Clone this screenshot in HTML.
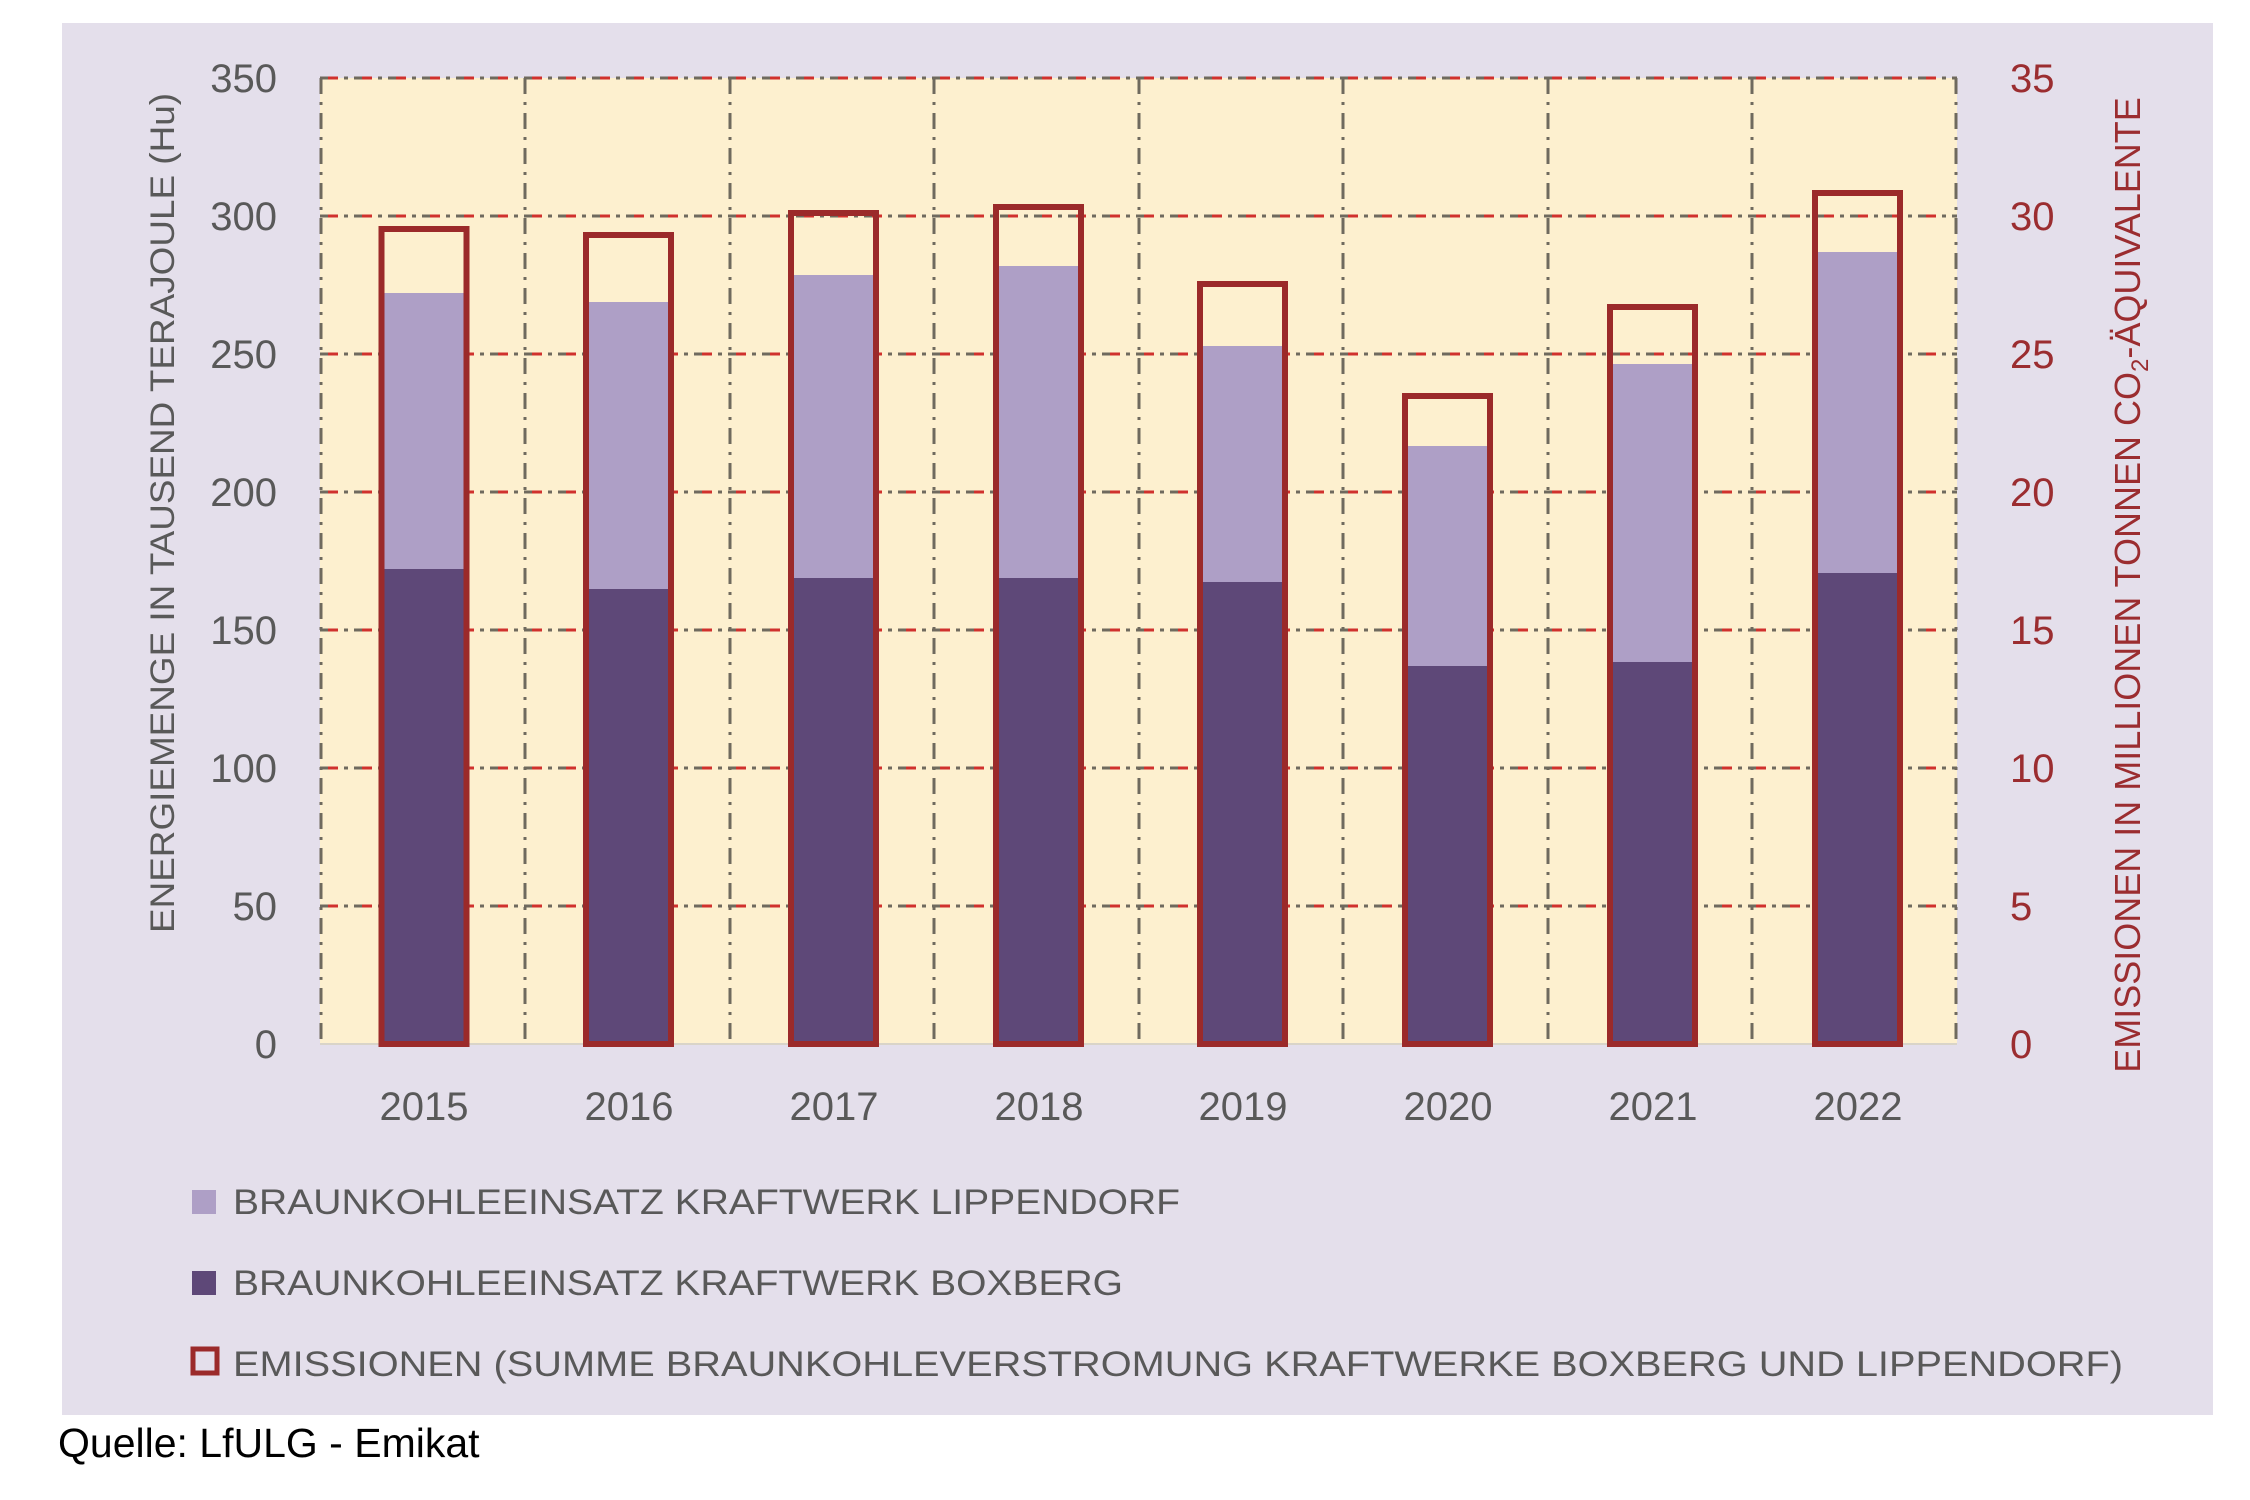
<!DOCTYPE html>
<html><head><meta charset="utf-8"><style>
html,body{margin:0;padding:0;background:#fff;}
svg{display:block;}
text{font-family:"Liberation Sans",sans-serif;}
</style></head><body>
<svg width="2250" height="1500" viewBox="0 0 2250 1500" xmlns="http://www.w3.org/2000/svg">
<rect x="62" y="23" width="2151" height="1392" fill="#e4dfeb"/>
<rect x="320" y="78" width="1637" height="966" fill="#fdf0cf"/>
<g stroke-width="3">
<g stroke="#6f6a5e" stroke-dasharray="18,6,4,6">
<line x1="320" y1="78" x2="1957" y2="78"/><line x1="320" y1="216" x2="1957" y2="216"/><line x1="320" y1="354" x2="1957" y2="354"/><line x1="320" y1="492" x2="1957" y2="492"/><line x1="320" y1="630" x2="1957" y2="630"/><line x1="320" y1="768" x2="1957" y2="768"/><line x1="320" y1="906" x2="1957" y2="906"/>
</g>
<g stroke="#d0312d" stroke-dasharray="10,24" stroke-dashoffset="-8">
<line x1="320" y1="78" x2="1957" y2="78"/><line x1="320" y1="216" x2="1957" y2="216"/><line x1="320" y1="354" x2="1957" y2="354"/><line x1="320" y1="492" x2="1957" y2="492"/><line x1="320" y1="630" x2="1957" y2="630"/><line x1="320" y1="768" x2="1957" y2="768"/><line x1="320" y1="906" x2="1957" y2="906"/>
</g>
</g>
<g stroke="#6f6a5e" stroke-width="3" stroke-dasharray="16,8,3,8">
<line x1="321" y1="78" x2="321" y2="1044"/><line x1="525" y1="78" x2="525" y2="1044"/><line x1="730" y1="78" x2="730" y2="1044"/><line x1="934" y1="78" x2="934" y2="1044"/><line x1="1139" y1="78" x2="1139" y2="1044"/><line x1="1343" y1="78" x2="1343" y2="1044"/><line x1="1548" y1="78" x2="1548" y2="1044"/><line x1="1752" y1="78" x2="1752" y2="1044"/><line x1="1956" y1="78" x2="1956" y2="1044"/>
</g>
<line x1="320" y1="1044" x2="1957" y2="1044" stroke="#d9d4c8" stroke-width="2"/>
<g>
<rect x="381" y="569" width="84" height="475" fill="#5e4878"/><rect x="381" y="293" width="84" height="276" fill="#ae9fc6"/>
<rect x="381.5" y="229" width="85" height="815" fill="none" stroke="#9b2a2a" stroke-width="6"/>
<rect x="586" y="589" width="84" height="455" fill="#5e4878"/><rect x="586" y="302" width="84" height="287" fill="#ae9fc6"/>
<rect x="586" y="235" width="85" height="809" fill="none" stroke="#9b2a2a" stroke-width="6"/>
<rect x="791" y="578" width="84" height="466" fill="#5e4878"/><rect x="791" y="275" width="84" height="303" fill="#ae9fc6"/>
<rect x="791" y="213" width="85" height="831" fill="none" stroke="#9b2a2a" stroke-width="6"/>
<rect x="996" y="578" width="84" height="466" fill="#5e4878"/><rect x="996" y="266" width="84" height="312" fill="#ae9fc6"/>
<rect x="996" y="207" width="85" height="837" fill="none" stroke="#9b2a2a" stroke-width="6"/>
<rect x="1200" y="582" width="84" height="462" fill="#5e4878"/><rect x="1200" y="346" width="84" height="236" fill="#ae9fc6"/>
<rect x="1200" y="284" width="85" height="760" fill="none" stroke="#9b2a2a" stroke-width="6"/>
<rect x="1405" y="666" width="84" height="378" fill="#5e4878"/><rect x="1405" y="446" width="84" height="220" fill="#ae9fc6"/>
<rect x="1405" y="396" width="85" height="648" fill="none" stroke="#9b2a2a" stroke-width="6"/>
<rect x="1610" y="662" width="84" height="382" fill="#5e4878"/><rect x="1610" y="364" width="84" height="298" fill="#ae9fc6"/>
<rect x="1610" y="307" width="85" height="737" fill="none" stroke="#9b2a2a" stroke-width="6"/>
<rect x="1815" y="573" width="84" height="471" fill="#5e4878"/><rect x="1815" y="252" width="84" height="321" fill="#ae9fc6"/>
<rect x="1815" y="193" width="85" height="851" fill="none" stroke="#9b2a2a" stroke-width="6"/>
</g>
<g fill="#595959" font-size="40" text-anchor="end">
<text x="277" y="92">350</text><text x="277" y="230">300</text><text x="277" y="368">250</text><text x="277" y="506">200</text><text x="277" y="644">150</text><text x="277" y="782">100</text><text x="277" y="920">50</text><text x="277" y="1058">0</text>
</g>
<g fill="#9b2d30" font-size="40" text-anchor="start">
<text x="2010" y="92">35</text><text x="2010" y="230">30</text><text x="2010" y="368">25</text><text x="2010" y="506">20</text><text x="2010" y="644">15</text><text x="2010" y="782">10</text><text x="2010" y="920">5</text><text x="2010" y="1058">0</text>
</g>
<g fill="#595959" font-size="40" text-anchor="middle">
<text x="424" y="1120">2015</text><text x="629" y="1120">2016</text><text x="834" y="1120">2017</text><text x="1039" y="1120">2018</text><text x="1243" y="1120">2019</text><text x="1448" y="1120">2020</text><text x="1653" y="1120">2021</text><text x="1858" y="1120">2022</text>
</g>
<text transform="translate(174,513) rotate(-90)" fill="#595959" font-size="34" text-anchor="middle" textLength="840" lengthAdjust="spacingAndGlyphs">ENERGIEMENGE IN TAUSEND  TERAJOULE (Hu)</text>
<text transform="translate(2140,585) rotate(-90)" fill="#9b2d30" font-size="36" text-anchor="middle">EMISSIONEN IN MILLIONEN TONNEN CO<tspan font-size="24" dy="8">2</tspan><tspan dy="-8">-ÄQUIVALENTE</tspan></text>
<rect x="192" y="1190" width="24" height="24" fill="#ae9fc6"/>
<rect x="192" y="1271" width="24" height="24" fill="#5e4878"/>
<rect x="193" y="1349" width="24" height="24" fill="none" stroke="#9b2a2a" stroke-width="5"/>
<g fill="#595959" font-size="35">
<text x="233" y="1214" textLength="947" lengthAdjust="spacingAndGlyphs">BRAUNKOHLEEINSATZ KRAFTWERK LIPPENDORF</text>
<text x="233" y="1295" textLength="890" lengthAdjust="spacingAndGlyphs">BRAUNKOHLEEINSATZ KRAFTWERK BOXBERG</text>
<text x="233" y="1376" textLength="1890" lengthAdjust="spacingAndGlyphs">EMISSIONEN (SUMME BRAUNKOHLEVERSTROMUNG KRAFTWERKE BOXBERG UND LIPPENDORF)</text>
</g>
<text x="58" y="1457" fill="#000" font-size="41">Quelle: LfULG - Emikat</text>
</svg>
</body></html>
